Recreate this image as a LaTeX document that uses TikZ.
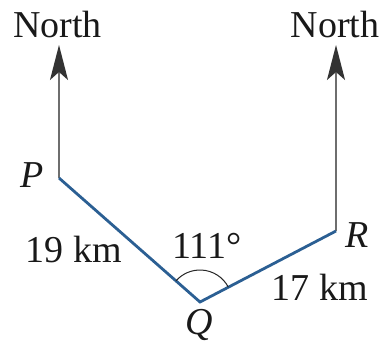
\documentclass[tikz,border=0pt]{standalone}
\usepackage{fontspec}
\setmainfont{Liberation Serif}
\usetikzlibrary{arrows.meta}
\definecolor{pathblue}{HTML}{2B5F93}
\definecolor{northgray}{HTML}{6E6E6E}
\tikzset{
  lbl/.style={font=\fontsize{38}{40}\selectfont, inner sep=0pt, anchor=base, text=black!90},
  northarrow/.style={draw=northgray, line width=1.6pt, -{Stealth[length=35pt, width=18pt, inset=8pt, color=black!80, fill=black!80]}},
  leg/.style={draw=pathblue, line width=2.8pt, line join=miter},
  anglearc/.style={draw=black!85, line width=1pt}
}
\begin{document}
\begin{tikzpicture}[x=1pt, y=-1pt]
\useasboundingbox (0,0) rectangle (385,354);
\coordinate (P) at (59,178);
\coordinate (Q) at (200,302);
\coordinate (R) at (336,231);
\coordinate (PN) at (59,45);
\coordinate (RN) at (336,45);
\draw[northarrow] (P) -- (PN);
\draw[northarrow] (R) -- (RN);
\draw[leg] (P) -- (Q) -- (R);
\draw[anglearc] ([shift={(27.6:32pt)}]Q) arc[start angle=27.6, end angle=138.7, radius=32pt];
\node[lbl] (n1) at (57.5,37) {North};
\node[lbl] (n2) at (335,37) {North};
\node[lbl] (lp) at (32,187) {\textit{P}};
\node[lbl] (lr) at (357,247) {\textit{R}};
\node[lbl] (lq) at (199,334) {\textit{Q}};
\node[lbl] (d1) at (74,262) {19 km};
\node[lbl] (ang) at (207,258) {111°};
\node[lbl] (d2) at (320,300) {17 km};
\end{tikzpicture}
\end{document}
